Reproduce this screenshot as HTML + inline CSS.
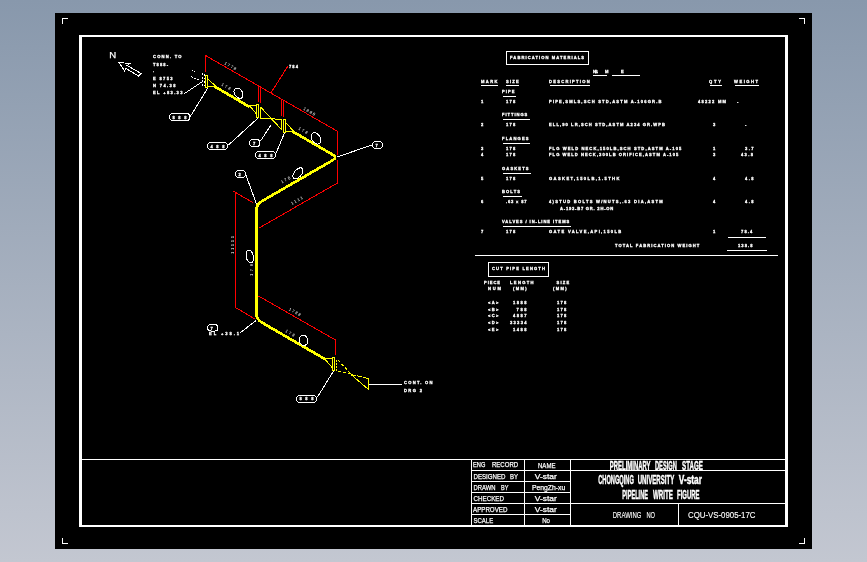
<!DOCTYPE html>
<html lang="en"><head><meta charset="utf-8"><title>Pipeline isometric drawing</title>
<style>
html,body{margin:0;padding:0;}
body{width:867px;height:562px;overflow:hidden;background:linear-gradient(to bottom,#8898ac 0px,#c3c7d1 562px);font-family:"Liberation Sans",sans-serif;}
svg{display:block;position:absolute;left:0;top:0;}
.w{stroke:#fff;fill:none;stroke-width:1;}
.r{stroke:#f00;fill:none;stroke-width:1;}
.y{stroke:#ff0;fill:none;stroke-width:1;}
.p{stroke:#ff0;fill:none;stroke-width:2.7;stroke-linejoin:round;stroke-linecap:butt;}
.c{shape-rendering:crispEdges;}
path,rect,ellipse{shape-rendering:crispEdges;}
.tx{filter:grayscale(1);}
text{fill:#fff;font-family:"Liberation Sans",sans-serif;white-space:pre;}
.t{font-size:4.1px;font-weight:bold;stroke:#fff;stroke-width:0.3px;}
.rt{font-size:4.1px;font-weight:normal;}
.b{font-size:7.5px;stroke:#fff;stroke-width:0.25px;}
.b2{font-size:8.6px;stroke-width:0.12px;}
.h{font-size:12.4px;font-weight:bold;stroke:#fff;stroke-width:0.45px;}
</style></head><body>
<svg width="867" height="562" viewBox="0 0 867 562" style="will-change:transform">
<rect x="55" y="13" width="757" height="536" fill="#000" class="c"/>
<g fill="#fff" class="c">
<rect x="79" y="35" width="709" height="2"/>
<rect x="79" y="525" width="709" height="2"/>
<rect x="79" y="35" width="3" height="492"/>
<rect x="785" y="35" width="3" height="492"/>
<rect x="62" y="18" width="6" height="1"/><rect x="62" y="18" width="1" height="6"/>
<rect x="799" y="18" width="6" height="1"/><rect x="804" y="18" width="1" height="6"/>
<rect x="62" y="543" width="6" height="1"/><rect x="62" y="538" width="1" height="6"/>
<rect x="799" y="543" width="6" height="1"/><rect x="804" y="538" width="1" height="6"/>
<rect x="82" y="459" width="703" height="1"/>
<rect x="471" y="459" width="1" height="66"/>
<rect x="524" y="459" width="1" height="66"/>
<rect x="570" y="459" width="1" height="66"/>
<rect x="471" y="470" width="314" height="1"/>
<rect x="471" y="481" width="100" height="1"/>
<rect x="471" y="492" width="100" height="1"/>
<rect x="471" y="503" width="314" height="1"/>
<rect x="471" y="514" width="100" height="1"/>
<rect x="678" y="503" width="1" height="22"/>
</g>
<g class="r">
<path class="r" d="M205.5 72.0 L205.5 55.5 L337.5 131.3"/>
<path class="r c" d="M258.5 85.0 L258.5 102.0"/>
<path class="r c" d="M260.5 86.0 L260.5 103.0"/>
<path class="r c" d="M281.5 99.0 L281.5 116.0"/>
<path class="r c" d="M283.5 100.0 L283.5 117.0"/>
<path class="r c" d="M337.5 131.0 L337.5 155.0"/>
<path class="r c" d="M337.5 160.0 L337.5 183.0"/>
<path class="r" d="M270.7 93.3 L287.8 66.2"/>
<path class="r" d="M337.5 183.0 L258.5 228.3"/>
<path class="r" d="M233.5 191.3 L253.0 202.7"/>
<path class="r c" d="M235.5 192.5 L235.5 307.5"/>
<path class="r" d="M235.5 307.5 L254.5 318.8"/>
<path class="r" d="M258.5 296.0 L335.5 340.0"/>
<path class="r c" d="M335.5 340.0 L335.5 355.0"/>
</g>
<g>
<rect class="y c" x="205.5" y="75.5" width="2" height="12"/>
<path class="y" d="M208.0 79.0 L215.5 86.0 L208.0 86.5"/>
<path class="p" d="M214.5 86.4 L249.7 107.0"/>
<path class="y" d="M256.0 105.5 L249.5 105.5 L256.0 113.5"/>
<rect class="y c" x="256.5" y="104.5" width="2" height="13"/>
<path class="y c" d="M260.5 107.0 L260.5 118.5"/>
<path class="y" d="M260.5 107.0 L281.5 129.5"/>
<path class="y" d="M260.5 118.3 L281.5 119.3"/>
<path class="y c" d="M281.5 119.0 L281.5 130.0"/>
<rect class="y c" x="283.5" y="119.5" width="2" height="13"/>
<path class="y" d="M286.0 123.0 L293.0 130.5 L293.0 131.5 L286.0 132.0"/>
<path class="p" d="M292.5 131.4 L332.6 154.6 Q337.4 157.4 332.6 160.3 L262 201.1 Q256.5 204.3 256.5 209.5 L256.5 313.5 Q256.5 319.3 262 322.6 L325 359.1"/>
<rect class="c" x="255" y="208" width="3" height="106" fill="#ff0"/>
<path class="y" d="M332.0 358.5 L324.5 358.5 L332.0 367.5"/>
<rect class="y c" x="332.5" y="357.5" width="2" height="13"/>
<path class="y c" d="M336.5 360.0 L336.5 371.5" stroke-dasharray="2 1"/>
<path class="y" d="M338.0 360.0 L351.0 374.0" stroke-dasharray="3 2"/>
<path class="y" d="M338.0 371.5 L351.0 374.0" stroke-dasharray="3 2"/>
<path class="y" d="M351.0 374.5 L368.5 378.5" stroke-dasharray="5 1"/>
<path class="y" d="M351.0 374.5 L368.5 389.5"/>
<path class="y c" d="M368.5 378.0 L368.5 390.0"/>
</g>
<g>
<path class="w" d="M119.0 62.5 L129.8 63.5 L127.0 65.5 L141.0 73.5 L138.5 76.0 L126.0 68.5 L124.5 70.8 Z"/>
<path class="w" d="M192.0 70.5 L201.0 75.0" stroke-dasharray="1 1.5"/>
<path class="w c" d="M202.5 73.0 L202.5 87.0" stroke-dasharray="2 1.5"/>
<path class="w c" d="M204.5 74.0 L204.5 86.0" stroke-dasharray="1.5 2"/>
<path class="w" d="M191.0 76.5 L201.0 81.0" stroke-dasharray="2 1.5"/>
<path class="w" d="M184.5 93.5 L202.0 81.8"/>
<path class="w" d="M207.5 88.5 L190.0 117.0"/>
<path class="w" d="M258.0 118.0 L228.5 145.0"/>
<path class="w" d="M271.0 125.0 L260.5 141.0"/>
<path class="w" d="M284.5 133.0 L275.7 154.0"/>
<path class="w" d="M337.0 157.0 L372.0 145.0"/>
<path class="w" d="M245.5 174.0 L256.5 204.0"/>
<path class="w" d="M256.0 320.5 L240.0 333.0"/>
<path class="w" d="M333.5 371.0 L317.5 397.0"/>
<path class="w c" d="M369.0 384.5 L402.0 384.5"/>
<rect class="w" x="169.5" y="113.5" width="20.5" height="7.0" rx="3.5" ry="3.5"/>
<rect class="w" x="207.5" y="142.5" width="20.0" height="7.0" rx="3.5" ry="3.5"/>
<rect class="w" x="249.5" y="139.5" width="10.5" height="7.0" rx="3.5" ry="3.5"/>
<rect class="w" x="255.5" y="151.5" width="20.0" height="7.0" rx="3.5" ry="3.5"/>
<rect class="w" x="235.5" y="170.5" width="10.0" height="7.0" rx="3.5" ry="3.5"/>
<rect class="w" x="372.5" y="141.5" width="10.0" height="7.0" rx="3.5" ry="3.5"/>
<rect class="w" x="207.5" y="324.5" width="10.5" height="6.5" rx="3.5" ry="3.5"/>
<rect class="w" x="296.5" y="395.5" width="20.0" height="7.0" rx="3.5" ry="3.5"/>
<ellipse class="w" cx="238.5" cy="93.2" rx="3.9" ry="5.7" transform="rotate(-35 238.5 93.2)"/>
<ellipse class="w" cx="316.0" cy="138.4" rx="4.2" ry="6.2" transform="rotate(-35 316.0 138.4)"/>
<ellipse class="w" cx="297.9" cy="173.4" rx="6.6" ry="3.6" transform="rotate(-50 297.9 173.4)"/>
<ellipse class="w" cx="249.8" cy="256.5" rx="3.6" ry="6.5" transform="rotate(-12 249.8 256.5)"/>
<ellipse class="w" cx="303.5" cy="340.3" rx="4.3" ry="5.2" transform="rotate(-20 303.5 340.3)"/>
</g>
<g fill="#fff" class="c">
<rect class="w c" x="506.5" y="51.5" width="82" height="13" fill="none"/>
<rect class="w c" x="488.5" y="262.5" width="60" height="14" fill="none"/>
<rect x="593" y="75" width="14" height="1"/>
<rect x="612" y="75" width="28" height="1"/>
<rect x="481" y="85" width="17" height="1"/>
<rect x="506" y="85" width="13" height="1"/>
<rect x="550" y="85" width="40" height="1"/>
<rect x="710" y="85" width="12" height="1"/>
<rect x="735" y="85" width="24" height="1"/>
<rect x="503" y="96" width="13" height="1"/>
<rect x="503" y="119" width="27" height="1"/>
<rect x="503" y="143" width="27" height="1"/>
<rect x="503" y="173" width="28" height="1"/>
<rect x="503" y="196" width="19" height="1"/>
<rect x="503" y="226" width="68" height="1"/>
<rect x="728" y="237" width="38" height="1"/>
<rect x="727" y="250" width="40" height="1"/>
<rect x="475" y="255" width="303" height="1"/>
</g>
<g class="tx">
<text x="109.2" y="58" style="font-size:9.6px;stroke:#fff;stroke-width:0.25px">N</text>
<text class="t" x="153.0" y="58.0" textLength="28.5" lengthAdjust="spacing">CONN. TO</text>
<text class="t" x="153.0" y="66.0" textLength="15.0" lengthAdjust="spacing">T888-</text>
<text class="t" x="153.0" y="72.0">.</text>
<text class="t" x="153.0" y="80.0" textLength="19.5" lengthAdjust="spacing">E 8753</text>
<text class="t" x="153.0" y="87.0" textLength="22.5" lengthAdjust="spacing">N 74.38</text>
<text class="t" x="153.0" y="94.0" textLength="29.5" lengthAdjust="spacing">EL +83.33</text>
<text class="t" x="289.0" y="68.0" textLength="9.0" lengthAdjust="spacing">784</text>
<text class="t" x="172.5" y="119.0" textLength="14.0" lengthAdjust="spacing">888</text>
<text class="t" x="210.5" y="148.0" textLength="14.0" lengthAdjust="spacing">488</text>
<text class="t" x="253.0" y="145.0">7</text>
<text class="t" x="258.5" y="157.0" textLength="14.0" lengthAdjust="spacing">488</text>
<text class="t" x="238.5" y="176.0">2</text>
<text class="t" x="375.5" y="147.0">7</text>
<text class="t" x="210.5" y="330.0">7</text>
<text class="t" x="209.0" y="335.0" textLength="30.0" lengthAdjust="spacing">EL +38.1</text>
<text class="t" x="299.5" y="400.0" textLength="14.0" lengthAdjust="spacing">888</text>
<text class="t" x="404.0" y="384.0" textLength="28.5" lengthAdjust="spacing">CONT. ON</text>
<text class="t" x="404.0" y="392.0" textLength="18.0" lengthAdjust="spacing">DRG 2</text>
<text class="rt" transform="translate(224.0 64.0) rotate(30)" textLength="13.0" lengthAdjust="spacing">1778</text>
<text class="rt" transform="translate(221.0 85.2) rotate(30)" textLength="10.0" lengthAdjust="spacing">178</text>
<text class="rt" transform="translate(303.0 109.5) rotate(30)" textLength="13.0" lengthAdjust="spacing">1888</text>
<text class="rt" transform="translate(298.0 129.2) rotate(30)" textLength="10.0" lengthAdjust="spacing">178</text>
<text class="rt" transform="translate(282.0 183.5) rotate(-30)" textLength="10.0" lengthAdjust="spacing">178</text>
<text class="rt" transform="translate(292.0 205.0) rotate(-30)" textLength="13.0" lengthAdjust="spacing">1111</text>
<text class="rt" transform="translate(233.5 254.0) rotate(-90)" textLength="18.0" lengthAdjust="spacing">11111</text>
<text class="rt" transform="translate(252.5 276.0) rotate(-90)" textLength="12.0" lengthAdjust="spacing">178</text>
<text class="rt" transform="translate(288.5 310.0) rotate(30)" textLength="13.0" lengthAdjust="spacing">1788</text>
<text class="rt" transform="translate(285.0 331.8) rotate(30)" textLength="10.0" lengthAdjust="spacing">178</text>
<text class="t" x="510.0" y="59.0" textLength="74.0" lengthAdjust="spacing">FABRICATION MATERIALS</text>
<text class="t" x="593.0" y="73.0" textLength="5.0" lengthAdjust="spacing">N.S.</text>
<text class="t" x="605.0" y="73.0" textLength="3.0" lengthAdjust="spacing">M</text>
<text class="t" x="621.0" y="73.0" textLength="2.5" lengthAdjust="spacing">E</text>
<text class="t" x="481.0" y="83.0" textLength="16.5" lengthAdjust="spacing">MARK</text>
<text class="t" x="506.0" y="83.0" textLength="12.7" lengthAdjust="spacing">SIZE</text>
<text class="t" x="549.0" y="83.0" textLength="40.6" lengthAdjust="spacing">DESCRIPTION</text>
<text class="t" x="709.0" y="83.0" textLength="12.0" lengthAdjust="spacing">QTY</text>
<text class="t" x="734.0" y="83.0" textLength="24.0" lengthAdjust="spacing">WEIGHT</text>
<text class="t" x="502.0" y="93.0" textLength="12.5" lengthAdjust="spacing">PIPE</text>
<text class="t" x="481.0" y="103.0">1</text>
<text class="t" x="506.0" y="103.0" textLength="9.3" lengthAdjust="spacing">178</text>
<text class="t" x="549.0" y="103.0" textLength="112.4" lengthAdjust="spacing">PIPE,SMLS,SCH STD,ASTM A-106GR.B</text>
<text class="t" x="698.0" y="103.0" textLength="28.0" lengthAdjust="spacing">48222 MM</text>
<text class="t" x="737.0" y="103.0">-</text>
<text class="t" x="502.0" y="116.0" textLength="25.3" lengthAdjust="spacing">FITTINGS</text>
<text class="t" x="481.0" y="126.0">2</text>
<text class="t" x="506.0" y="126.0" textLength="9.3" lengthAdjust="spacing">178</text>
<text class="t" x="549.0" y="126.0" textLength="116.0" lengthAdjust="spacing">ELL,90 LR,SCH STD,ASTM A234 GR.WPB</text>
<text class="t" x="713.0" y="126.0">3</text>
<text class="t" x="745.0" y="126.0">-</text>
<text class="t" x="502.0" y="140.0" textLength="26.5" lengthAdjust="spacing">FLANGES</text>
<text class="t" x="481.0" y="150.0">3</text>
<text class="t" x="506.0" y="150.0" textLength="9.3" lengthAdjust="spacing">178</text>
<text class="t" x="549.0" y="150.0" textLength="132.3" lengthAdjust="spacing">FLG WELD NECK,150LB,SCH STD,ASTM A-105</text>
<text class="t" x="713.0" y="150.0">1</text>
<text class="t" x="745.0" y="150.0" textLength="8.5" lengthAdjust="spacing">3.7</text>
<text class="t" x="481.0" y="156.0">4</text>
<text class="t" x="506.0" y="156.0" textLength="9.3" lengthAdjust="spacing">178</text>
<text class="t" x="549.0" y="156.0" textLength="129.3" lengthAdjust="spacing">FLG WELD NECK,300LB ORIFICE,ASTM A-105</text>
<text class="t" x="713.0" y="156.0">3</text>
<text class="t" x="741.0" y="156.0" textLength="12.0" lengthAdjust="spacing">43.8</text>
<text class="t" x="502.0" y="170.0" textLength="26.5" lengthAdjust="spacing">GASKETS</text>
<text class="t" x="481.0" y="180.0">5</text>
<text class="t" x="506.0" y="180.0" textLength="9.3" lengthAdjust="spacing">178</text>
<text class="t" x="549.0" y="180.0" textLength="70.4" lengthAdjust="spacing">GASKET,150LB,1.5THK</text>
<text class="t" x="713.0" y="180.0">4</text>
<text class="t" x="745.0" y="180.0" textLength="8.5" lengthAdjust="spacing">4.8</text>
<text class="t" x="502.0" y="193.0" textLength="18.0" lengthAdjust="spacing">BOLTS</text>
<text class="t" x="481.0" y="203.0">6</text>
<text class="t" x="506.0" y="203.0" textLength="20.5" lengthAdjust="spacing">.63 x 87</text>
<text class="t" x="549.0" y="203.0" textLength="113.7" lengthAdjust="spacing">4)STUD BOLTS W/NUTS,.63 DIA,ASTM</text>
<text class="t" x="713.0" y="203.0">4</text>
<text class="t" x="745.0" y="203.0" textLength="8.5" lengthAdjust="spacing">4.8</text>
<text class="t" x="560.0" y="210.0" textLength="53.2" lengthAdjust="spacing">A-193-B7 GR. 2H-ON</text>
<text class="t" x="502.0" y="223.0" textLength="67.3" lengthAdjust="spacing">VALVES / IN-LINE ITEMS</text>
<text class="t" x="481.0" y="233.0">7</text>
<text class="t" x="506.0" y="233.0" textLength="9.3" lengthAdjust="spacing">178</text>
<text class="t" x="549.0" y="233.0" textLength="72.3" lengthAdjust="spacing">GATE VALVE,API,150LB</text>
<text class="t" x="713.0" y="233.0">1</text>
<text class="t" x="741.0" y="233.0" textLength="11.3" lengthAdjust="spacing">78.4</text>
<text class="t" x="615.0" y="247.0" textLength="84.3" lengthAdjust="spacing">TOTAL FABRICATION WEIGHT</text>
<text class="t" x="738.0" y="247.0" textLength="14.5" lengthAdjust="spacing">138.8</text>
<text class="t" x="492.0" y="270.0" textLength="53.0" lengthAdjust="spacing">CUT PIPE LENGTH</text>
<text class="t" x="484.0" y="284.0" textLength="16.0" lengthAdjust="spacing">PIECE</text>
<text class="t" x="510.0" y="284.0" textLength="23.5" lengthAdjust="spacing">LENGTH</text>
<text class="t" x="556.5" y="284.0" textLength="12.8" lengthAdjust="spacing">SIZE</text>
<text class="t" x="488.0" y="290.0" textLength="13.0" lengthAdjust="spacing">NUM</text>
<text class="t" x="513.0" y="290.0" textLength="13.5" lengthAdjust="spacing">(MM)</text>
<text class="t" x="553.0" y="290.0" textLength="13.5" lengthAdjust="spacing">(MM)</text>
<text class="t" x="488.0" y="304.0" textLength="10.3" lengthAdjust="spacing">&lt;A&gt;</text>
<text class="t" x="513.0" y="304.0" textLength="13.5" lengthAdjust="spacing">1888</text>
<text class="t" x="557.0" y="304.0" textLength="9.3" lengthAdjust="spacing">178</text>
<text class="t" x="488.0" y="311.0" textLength="10.3" lengthAdjust="spacing">&lt;B&gt;</text>
<text class="t" x="516.6" y="311.0" textLength="10.0" lengthAdjust="spacing">788</text>
<text class="t" x="557.0" y="311.0" textLength="9.3" lengthAdjust="spacing">178</text>
<text class="t" x="488.0" y="317.0" textLength="10.3" lengthAdjust="spacing">&lt;C&gt;</text>
<text class="t" x="513.0" y="317.0" textLength="13.5" lengthAdjust="spacing">4887</text>
<text class="t" x="557.0" y="317.0" textLength="9.3" lengthAdjust="spacing">178</text>
<text class="t" x="488.0" y="324.0" textLength="10.3" lengthAdjust="spacing">&lt;D&gt;</text>
<text class="t" x="510.0" y="324.0" textLength="16.5" lengthAdjust="spacing">33334</text>
<text class="t" x="557.0" y="324.0" textLength="9.3" lengthAdjust="spacing">178</text>
<text class="t" x="488.0" y="331.0" textLength="10.3" lengthAdjust="spacing">&lt;E&gt;</text>
<text class="t" x="513.0" y="331.0" textLength="13.5" lengthAdjust="spacing">1488</text>
<text class="t" x="557.0" y="331.0" textLength="9.3" lengthAdjust="spacing">178</text>
</g>
<g class="tx">
<text class="b" x="473.0" y="467.4" textLength="12.3" lengthAdjust="spacingAndGlyphs">ENG</text>
<text class="b" x="491.9" y="467.4" textLength="26.3" lengthAdjust="spacingAndGlyphs">RECORD</text>
<text class="b" x="538.0" y="468.3" textLength="17.5" lengthAdjust="spacingAndGlyphs">NAME</text>
<text class="b" x="473.5" y="479.0" textLength="32.0" lengthAdjust="spacingAndGlyphs">DESIGNED</text>
<text class="b" x="509.9" y="479.0" textLength="8.0" lengthAdjust="spacingAndGlyphs">BY</text>
<text class="b" x="534.8" y="479.0" textLength="22.0" lengthAdjust="spacingAndGlyphs">V-star</text>
<text class="b" x="473.5" y="490.2" textLength="22.0" lengthAdjust="spacingAndGlyphs">DRAWN</text>
<text class="b" x="501.0" y="490.2" textLength="7.4" lengthAdjust="spacingAndGlyphs">BY</text>
<text class="b" x="532.0" y="490.3" textLength="33.2" lengthAdjust="spacingAndGlyphs">PengZh-xu</text>
<text class="b" x="473.5" y="501.2" textLength="30.5" lengthAdjust="spacingAndGlyphs">CHECKED</text>
<text class="b" x="534.8" y="501.2" textLength="22.0" lengthAdjust="spacingAndGlyphs">V-star</text>
<text class="b" x="473.0" y="512.0" textLength="34.4" lengthAdjust="spacingAndGlyphs">APPROVED</text>
<text class="b" x="534.8" y="512.0" textLength="22.0" lengthAdjust="spacingAndGlyphs">V-star</text>
<text class="b" x="473.5" y="523.3" textLength="19.7" lengthAdjust="spacingAndGlyphs">SCALE</text>
<text class="b" x="542.2" y="523.2" textLength="7.8" lengthAdjust="spacingAndGlyphs">No</text>
<text class="h" x="609.8" y="470.0" textLength="40.7" lengthAdjust="spacingAndGlyphs">PRELIMINARY</text>
<text class="h" x="655.0" y="470.0" textLength="21.8" lengthAdjust="spacingAndGlyphs">DESIGN</text>
<text class="h" x="682.1" y="470.0" textLength="20.8" lengthAdjust="spacingAndGlyphs">STAGE</text>
<text class="h" x="598.2" y="483.5" textLength="35.7" lengthAdjust="spacingAndGlyphs">CHONGQING</text>
<text class="h" x="637.7" y="483.5" textLength="36.6" lengthAdjust="spacingAndGlyphs">UNIVERSITY</text>
<text class="h" x="678.8" y="483.5" textLength="23.2" lengthAdjust="spacingAndGlyphs">V-star</text>
<text class="h" x="622.3" y="499.0" textLength="25.7" lengthAdjust="spacingAndGlyphs">PIPELINE</text>
<text class="h" x="653.0" y="499.0" textLength="20.0" lengthAdjust="spacingAndGlyphs">WRITE</text>
<text class="h" x="677.1" y="499.0" textLength="22.4" lengthAdjust="spacingAndGlyphs">FIGURE</text>
<text class="b b2" x="612.8" y="518.2" textLength="28.6" lengthAdjust="spacingAndGlyphs">DRAWING</text>
<text class="b b2" x="646.4" y="518.2" textLength="8.6" lengthAdjust="spacingAndGlyphs">NO</text>
<text class="b b2" x="688.0" y="518.2" textLength="67.5" lengthAdjust="spacingAndGlyphs">CQU-VS-0905-17C</text>
</g>
</svg></body></html>
